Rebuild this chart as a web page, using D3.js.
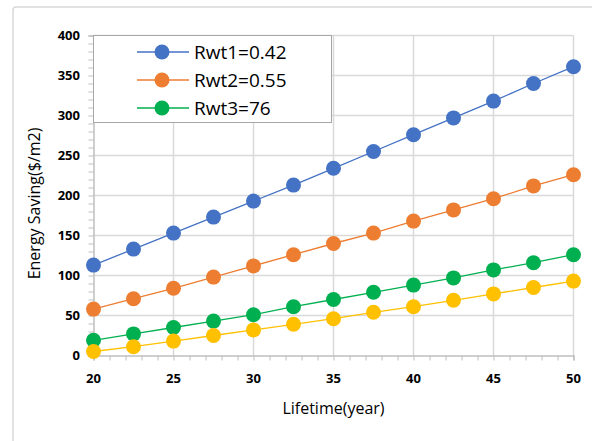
<!DOCTYPE html>
<html>
<head>
<meta charset="utf-8">
<script src="https://cdn.jsdelivr.net/npm/d3@7"></script>
<style>
  html, body { margin: 0; padding: 0; background: #fff; }
  svg { display: block; }
  text { font-family: "Open Sans", "Noto Sans", sans-serif; fill: #000; }
</style>
</head>
<body>
<svg id="chart" width="592" height="441"></svg>
<script>
// Lifetime (years) on the x axis
const lifetimes = [20, 22.5, 25, 27.5, 30, 32.5, 35, 37.5, 40, 42.5, 45, 47.5, 50];

// Energy saving ($/m2) for each series
const rwt1 = [113, 133, 153, 173, 193, 213, 234, 255, 276, 297, 318, 340, 361];
const rwt2 = [58, 71, 84, 98, 112, 126, 140, 153, 168, 182, 196, 212, 226];
const rwt3 = [19, 27, 35, 43, 51, 61, 70, 79, 88, 97, 107, 116, 126];
const rwt4 = [5, 11, 18, 25, 32, 39, 46, 54, 61, 69, 77, 85, 93];

const seriesNames = ["Rwt1=0.42", "Rwt2=0.55", "Rwt3=76", ""];
const seriesColors = ["#4472C4", "#ED7D31", "#00B050", "#FFC000"];
const legendCount = 3;

const xTicks = [20, 25, 30, 35, 40, 45, 50];
const yTicks = [0, 50, 100, 150, 200, 250, 300, 350, 400];

const xTitle = "Lifetime(year)";
const yTitle = "Energy Saving($/m2)";

const series = [rwt1, rwt2, rwt3, rwt4].map((vals, i) => ({
  name: seriesNames[i],
  color: seriesColors[i],
  points: vals.map((v, j) => ({ x: lifetimes[j], y: v }))
}));

const svg = d3.select("#chart");

// chart frame
svg.append("rect")
  .attr("x", 13).attr("y", 7)
  .attr("width", 600).attr("height", 460)
  .attr("rx", 3)
  .attr("fill", "#fff")
  .attr("stroke", "#d9d9d9")
  .attr("stroke-width", 1.5);

const plot = { left: 93.5, right: 573.5, top: 35.5, bottom: 355.5 };

const x = d3.scaleLinear().domain([20, 50]).range([plot.left, plot.right]);
const y = d3.scaleLinear().domain([0, 400]).range([plot.bottom, plot.top]);

// grid lines
const grid = svg.append("g");
grid.selectAll("line.h").data(yTicks.filter(d => d > 0)).join("line")
  .attr("x1", plot.left).attr("x2", plot.right)
  .attr("y1", d => y(d)).attr("y2", d => y(d))
  .attr("stroke", "#d9d9d9").attr("stroke-width", 1.5);
grid.selectAll("line.v").data(xTicks.filter(d => d > 20)).join("line")
  .attr("x1", d => x(d)).attr("x2", d => x(d))
  .attr("y1", plot.top).attr("y2", plot.bottom)
  .attr("stroke", "#d9d9d9").attr("stroke-width", 1.5);

// x axis with minor ticks every year
const xAxis = d3.axisBottom(x)
  .tickValues(d3.range(20, 51, 1))
  .tickSize(5)
  .tickFormat("");
const gx = svg.append("g").attr("transform", `translate(0,${plot.bottom})`).call(xAxis);
gx.select(".domain").attr("stroke", "#bfbfbf").attr("stroke-width", 1.5);
gx.selectAll(".tick line").attr("stroke", "#bfbfbf");

svg.append("g").selectAll("text").data(xTicks).join("text")
  .attr("x", d => x(d)).attr("y", 383)
  .attr("text-anchor", "middle")
  .attr("font-size", 13).attr("font-weight", "bold")
  .text(d => d);

// y axis with minor ticks every 10
const yAxis = d3.axisLeft(y)
  .tickValues(d3.range(0, 401, 10))
  .tickSize(5)
  .tickFormat("");
const gy = svg.append("g").attr("transform", `translate(${plot.left},0)`).call(yAxis);
gy.select(".domain").attr("stroke", "#bfbfbf").attr("stroke-width", 1.5);
gy.selectAll(".tick line").attr("stroke", "#bfbfbf");

svg.append("g").selectAll("text").data(yTicks).join("text")
  .attr("x", 80).attr("y", d => y(d) + 4.5)
  .attr("text-anchor", "end")
  .attr("font-size", 13).attr("font-weight", "bold")
  .text(d => d);

// axis titles
svg.append("text")
  .attr("x", x(35)).attr("y", 414)
  .attr("text-anchor", "middle")
  .attr("font-size", 16)
  .text(xTitle);
svg.append("text")
  .attr("transform", `translate(40,${(plot.top + plot.bottom) / 2 + 8}) rotate(-90)`)
  .attr("text-anchor", "middle")
  .attr("font-size", 16)
  .text(yTitle);

// series lines and markers
const line = d3.line().x(d => x(d.x)).y(d => y(d.y));
series.forEach(s => {
  const g = svg.append("g");
  g.append("path")
    .attr("d", line(s.points))
    .attr("fill", "none")
    .attr("stroke", s.color)
    .attr("stroke-width", 1.3);
  g.selectAll("circle").data(s.points).join("circle")
    .attr("cx", d => x(d.x)).attr("cy", d => y(d.y))
    .attr("r", 7.5)
    .attr("fill", s.color);
});

// legend
const legend = svg.append("g");
legend.append("rect")
  .attr("x", plot.left).attr("y", plot.top)
  .attr("width", 238).attr("height", 87)
  .attr("fill", "#fff")
  .attr("stroke", "#a6a6a6").attr("stroke-width", 1);
series.slice(0, legendCount).forEach((s, i) => {
  const ly = 52 + i * 28;
  legend.append("line")
    .attr("x1", 137).attr("x2", 189)
    .attr("y1", ly).attr("y2", ly)
    .attr("stroke", s.color).attr("stroke-width", 1.3);
  legend.append("circle")
    .attr("cx", 162).attr("cy", ly).attr("r", 7.5)
    .attr("fill", s.color);
  legend.append("text")
    .attr("x", 194).attr("y", ly + 7)
    .attr("font-size", 19)
    .text(s.name);
});
</script>
</body>
</html>
